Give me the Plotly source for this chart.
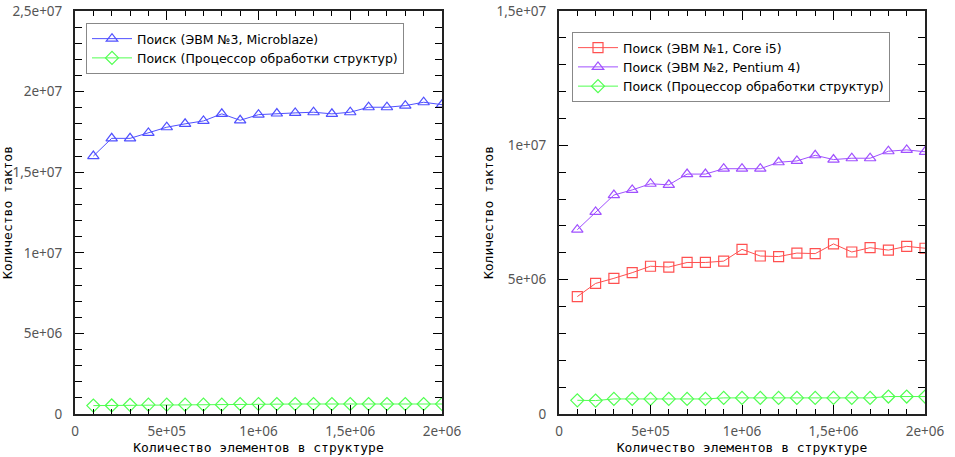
import plotly.graph_objects as go

# ---- data ----
n_elements = [100000, 200000, 300000, 400000, 500000, 600000, 700000, 800000, 900000, 1000000,
              1100000, 1200000, 1300000, 1400000, 1500000, 1600000, 1700000, 1800000, 1900000, 2000000]

microblaze = [1.600e7, 1.710e7, 1.710e7, 1.744e7, 1.779e7, 1.800e7, 1.818e7, 1.862e7, 1.822e7, 1.857e7,
              1.864e7, 1.868e7, 1.872e7, 1.862e7, 1.872e7, 1.903e7, 1.903e7, 1.913e7, 1.934e7, 1.919e7]
struct_proc_left = [0.52e6, 0.53e6, 0.57e6, 0.58e6, 0.58e6, 0.58e6, 0.58e6, 0.58e6, 0.62e6, 0.62e6,
                    0.62e6, 0.62e6, 0.62e6, 0.62e6, 0.62e6, 0.62e6, 0.62e6, 0.62e6, 0.62e6, 0.62e6]

core_i5 = [4.37e6, 4.86e6, 5.05e6, 5.26e6, 5.50e6, 5.47e6, 5.64e6, 5.64e6, 5.69e6, 6.13e6,
           5.88e6, 5.86e6, 5.99e6, 5.97e6, 6.33e6, 6.03e6, 6.19e6, 6.10e6, 6.24e6, 6.17e6]
pentium4 = [6.86e6, 7.52e6, 8.15e6, 8.34e6, 8.57e6, 8.53e6, 8.93e6, 8.93e6, 9.13e6, 9.13e6,
            9.13e6, 9.37e6, 9.42e6, 9.63e6, 9.47e6, 9.52e6, 9.52e6, 9.78e6, 9.83e6, 9.76e6]
struct_proc_right = [0.51e6, 0.50e6, 0.56e6, 0.56e6, 0.56e6, 0.56e6, 0.56e6, 0.56e6, 0.60e6, 0.60e6,
                     0.60e6, 0.60e6, 0.60e6, 0.60e6, 0.60e6, 0.60e6, 0.60e6, 0.65e6, 0.65e6, 0.65e6]

x_tickvals = [0, 500000, 1000000, 1500000, 2000000]
x_ticktext = ["0", "5e+05", "1e+06", "1,5e+06", "2e+06"]
yl_tickvals = [0, 5e6, 1e7, 1.5e7, 2e7, 2.5e7]
yl_ticktext = ["0", "5e+06", "1e+07", "1,5e+07", "2e+07", "2,5e+07"]
yr_tickvals = [0, 5e6, 1e7, 1.5e7]
yr_ticktext = ["0", "5e+06", "1e+07", "1,5e+07"]

name_mb = "Поиск (ЭВМ №3, Microblaze)"
name_sp = "Поиск (Процессор обработки структур)"
name_i5 = "Поиск (ЭВМ №1, Core i5)"
name_p4 = "Поиск (ЭВМ №2, Pentium 4)"
x_title = "Количество элементов в структуре"
y_title = "Количество тактов"

BLUE = "#5050ff"
GREEN = "#50ff50"
RED = "#ff5050"
PURPLE = "#a050ff"

W, H = 955, 457
fig = go.Figure()

def add(x, y, name, color, symbol, xa, ya, legend):
    fig.add_trace(go.Scatter(
        x=x, y=y, name=name, mode="lines+markers",
        line=dict(color=color, width=1),
        marker=dict(symbol=symbol, size=10, color=color, line=dict(color=color, width=1.2)),
        xaxis=xa, yaxis=ya, legend=legend))

add(n_elements, microblaze, name_mb, BLUE, "triangle-up-open", "x", "y", "legend")
add(n_elements, struct_proc_left, name_sp, GREEN, "diamond-open", "x", "y", "legend")
add(n_elements, core_i5, name_i5, RED, "square-open", "x2", "y2", "legend2")
add(n_elements, pentium4, name_p4, PURPLE, "triangle-up-open", "x2", "y2", "legend2")
add(n_elements, struct_proc_right, name_sp, GREEN, "diamond-open", "x2", "y2", "legend2")

tickfont = dict(family="Noto Sans, DejaVu Sans, sans-serif", size=13.5, color="#555")
titlefont = dict(family="DejaVu Sans Mono, monospace", size=13, color="#000")

ML, MR, MT, MB = 0, 0, 11, 43

def xaxis(dom):
    return dict(domain=dom, range=[0, 2000000], tickmode="array", tickvals=x_tickvals,
                ticktext=x_ticktext, ticks="inside", ticklen=9, tickcolor="#000", tickwidth=1,
                minor=dict(ticks="inside", ticklen=5, tickcolor="#000", tick0=0, dtick=100000),
                showline=True, linecolor="#222", linewidth=2, mirror="ticks",
                showgrid=False, zeroline=False, tickfont=tickfont, ticklabelstandoff=4,
                automargin=False,
                title=dict(text=x_title, font=titlefont, standoff=0))

def yaxis(rng, tv, tt, anchor, standoff):
    return dict(range=rng, tickmode="array", tickvals=tv, ticktext=tt, anchor=anchor,
                ticks="inside", ticklen=9, tickcolor="#000", tickwidth=1,
                minor=dict(ticks="inside", ticklen=7, tickcolor="#000", tick0=0, dtick=1000000),
                showline=True, linecolor="#222", linewidth=2, mirror="ticks",
                showgrid=False, zeroline=False, tickfont=tickfont, ticklabelstandoff=8,
                automargin=False,
                title=dict(text=y_title, font=titlefont, standoff=standoff))

plot_h = H - MT - MB
def py(pix):
    return (H - MB - pix) / plot_h

legend_style = dict(bgcolor="white", bordercolor="#888", borderwidth=1,
                    font=dict(family="DejaVu Sans, sans-serif", size=12.5, color="#000"),
                    xanchor="left", yanchor="top", itemwidth=40, tracegroupgap=0)

fig.update_layout(
    width=W, height=H,
    margin=dict(l=ML, r=MR, t=MT, b=MB),
    paper_bgcolor="white", plot_bgcolor="white",
    xaxis=xaxis([75 / W, 442 / W]),
    yaxis=yaxis([0, 2.5e7], yl_tickvals, yl_ticktext, "x", 0),
    xaxis2=xaxis([559 / W, 925 / W]),
    yaxis2=yaxis([0, 1.5e7], yr_tickvals, yr_ticktext, "x2", 0),
    legend=dict(x=86 / W, y=py(23), **legend_style),
    legend2=dict(x=572 / W, y=py(32), **legend_style),
)
fig.update_layout(xaxis2=dict(anchor="y2"), xaxis=dict(anchor="y"))

fig.write_html("out.html", config={"displayModeBar": False},
               post_script="document.body.style.margin='0px';document.body.style.overflow='hidden';")
